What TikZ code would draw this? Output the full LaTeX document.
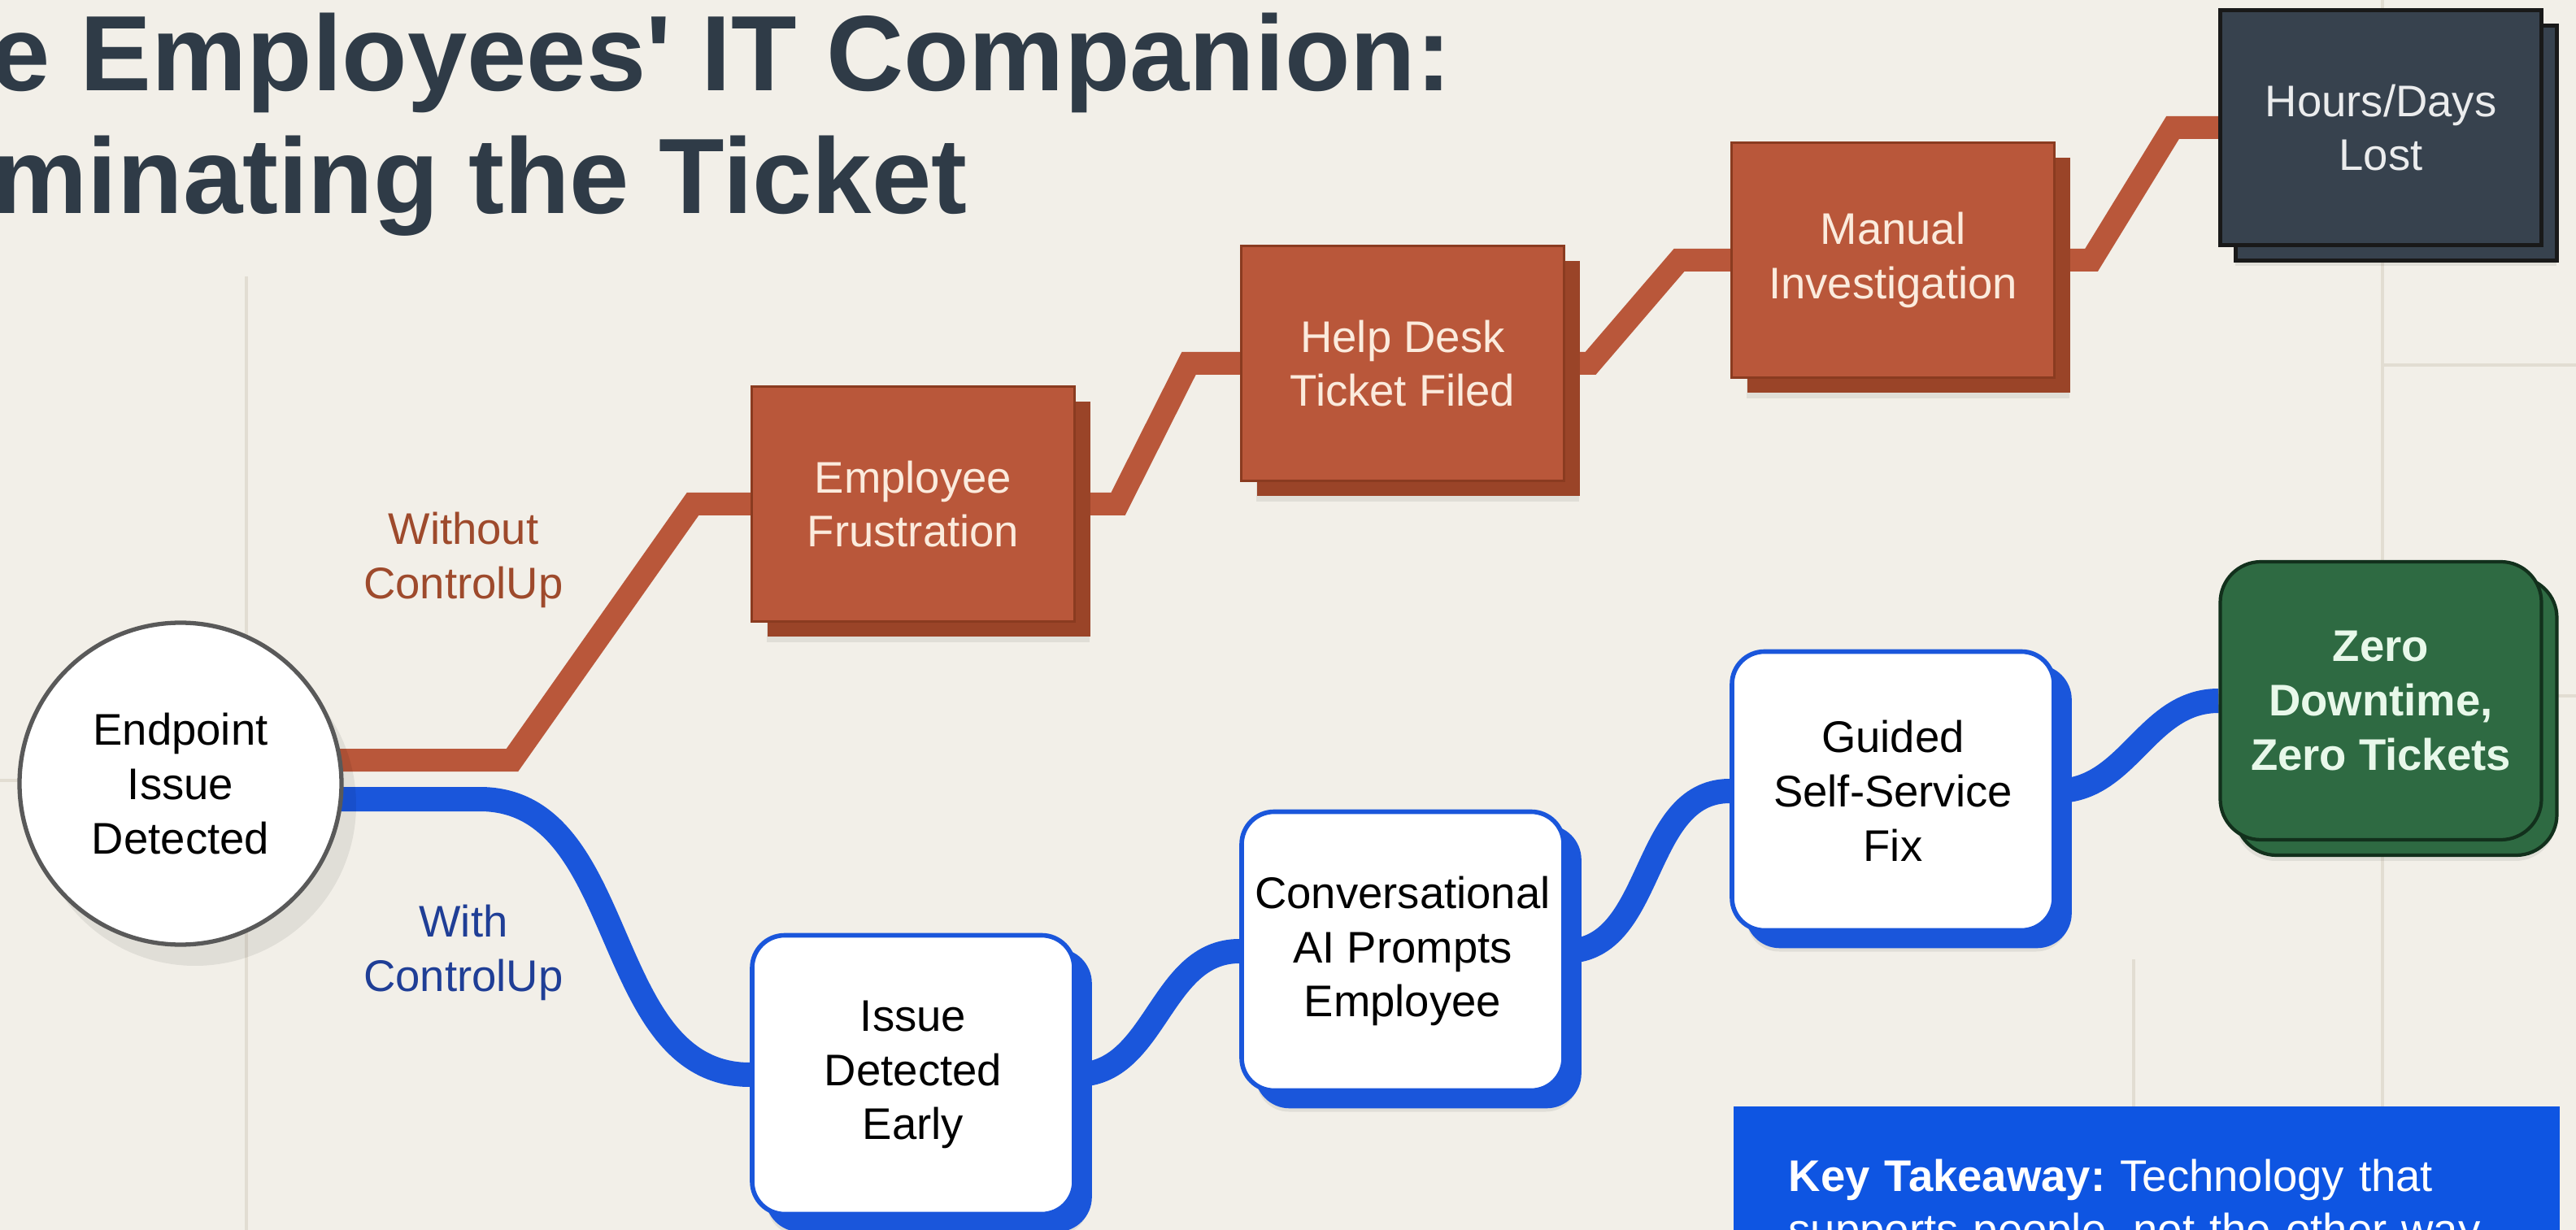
\documentclass[tikz,border=0pt]{standalone}
\usepackage{fontspec}
\setmainfont{Liberation Sans}
\usepackage{tikz}
\usetikzlibrary{positioning}
\usetikzlibrary{shadows}
\usetikzlibrary{backgrounds}
\frenchspacing

\definecolor{paper}{HTML}{F2EFE8}
\definecolor{gridcol}{HTML}{E2DDD2}
\definecolor{slate}{HTML}{2F3B47}
\definecolor{rust}{HTML}{B9573A}
\definecolor{rustdark}{HTML}{9A4428}
\definecolor{rustedge}{HTML}{8A3B20}
\definecolor{rusttext}{HTML}{FBEBDD}
\definecolor{rustlabel}{HTML}{9E4A2C}
\definecolor{ink}{HTML}{37424E}
\definecolor{royal}{HTML}{1A56DB}
\definecolor{royallabel}{HTML}{1F3E96}
\definecolor{pine}{HTML}{2E6A42}
\definecolor{pineedge}{HTML}{12301C}
\definecolor{pinetext}{HTML}{E8F8EA}
\definecolor{keyblue}{HTML}{0E55E2}

\tikzset{
  every node/.style={font=\fontsize{15.5}{19}\selectfont, align=center, inner sep=2pt},
  headline/.style={font=\fontsize{37.5}{45}\selectfont\bfseries, text=slate, inner sep=0pt},
  soft/.style={drop shadow={shadow xshift=0.18cm, shadow yshift=-0.26cm, opacity=0.07, fill=black, draw=none}},
  startnode/.style={circle, fill=white, draw=black!65, line width=1.5pt, minimum size=3.96cm, soft},
  oldbox/.style={rectangle, fill=rust, draw=rustedge, line width=0.8pt, text=rusttext,
    minimum width=3.97cm, minimum height=2.89cm, soft,
    copy shadow={shadow xshift=0.19cm, shadow yshift=-0.19cm, fill=rustdark, draw=none}},
  lostbox/.style={rectangle, fill=ink, draw=black!90, line width=1.2pt, text=white!90!ink,
    minimum width=3.95cm, minimum height=2.89cm, soft,
    copy shadow={shadow xshift=0.19cm, shadow yshift=-0.19cm, fill=ink, draw=black!90}},
  newbox/.style={rectangle, rounded corners=0.4cm, fill=white, draw=royal, line width=1.6pt, text=black,
    minimum width=3.96cm, minimum height=3.43cm, soft,
    copy shadow={shadow xshift=0.19cm, shadow yshift=-0.19cm, fill=royal, draw=royal}},
  winbox/.style={rectangle, rounded corners=0.5cm, fill=pine, draw=pineedge, line width=1.2pt, text=pinetext,
    font=\fontsize{15.5}{19}\selectfont\bfseries,
    minimum width=3.95cm, minimum height=3.42cm, soft,
    copy shadow={shadow xshift=0.19cm, shadow yshift=-0.19cm, fill=pine, draw=pineedge}},
  keybox/.style={rectangle, fill=keyblue, text=white, align=left, text width=8.8cm,
    inner xsep=0.68cm, inner ysep=0.65cm},
  oldpath/.style={draw=rust, line width=0.28cm, line join=miter},
  newpath/.style={draw=royal, line width=0.30cm},
  gridline/.style={draw=gridcol, line width=1pt}
}

\begin{document}
\begin{tikzpicture}
\useasboundingbox (0,0) rectangle (31.68,-15.13);

% title, cut at the left edge
\node[headline, anchor=base west] (head1) at (-0.12,-1.12) {e Employees\textquotesingle{} IT Companion:};
\node[headline, anchor=base west] (head2) at (-0.10,-2.63) {minating the Ticket};

\node[startnode] (start) at (2.22,-9.64) {Endpoint\\Issue\\Detected};

% without ControlUp
\node[oldbox] (frust) at (11.23,-6.20) {Employee\\Frustration};
\node[oldbox] (ticket) at (17.25,-4.47) {Help Desk\\Ticket Filed};
\node[oldbox] (manual) at (23.28,-3.20) {Manual\\Investigation};
\node[lostbox] (lost) at (29.28,-1.57) {Hours/Days\\Lost};

% with ControlUp
\node[newbox] (early) at (11.23,-13.22) {Issue\\Detected\\Early};
\node[newbox] (prompt) at (17.25,-11.70) {Conversational\\AI Prompts\\Employee};
\node[newbox] (selffix) at (23.28,-9.73) {Guided\\Self-Service\\Fix};
\node[winbox] (zero) at (29.28,-8.62) {Zero\\Downtime,\\Zero Tickets};

\node[text=rustlabel] (without) at (5.70,-6.89) {Without\\ControlUp};
\node[text=royallabel] (with) at (5.70,-11.72) {With\\ControlUp};

\node[keybox, anchor=north west] (key) at (21.31,-13.60) {\textbf{Key Takeaway:} Technology that\\supports people, not the other way};

\begin{pgfonlayer}{background}
  \fill[paper] (0,0) rectangle (31.68,-15.13);
  \draw[gridline] (3.03,-3.40) -- (3.03,-15.13);
  \draw[gridline] (29.30,0) -- (29.30,-15.13);
  \draw[gridline] (26.24,-11.80) -- (26.24,-15.13);
  \draw[gridline] (0,-9.60) -- (0.40,-9.60);
  \draw[gridline] (29.30,-4.49) -- (31.68,-4.49);
  \draw[gridline] (29.30,-8.56) -- (31.68,-8.56);

  \draw[oldpath] ([yshift=2.9mm]start.center) -- (6.30,-9.35) -- (8.52,-6.20) -- (frust.west);
  \draw[oldpath] (frust.east) -- (13.75,-6.20) -- (14.62,-4.47) -- (ticket.west);
  \draw[oldpath] (ticket.east) -- (19.56,-4.47) -- (20.65,-3.20) -- (manual.west);
  \draw[oldpath] (manual.east) -- (25.72,-3.20) -- (26.72,-1.57) -- (lost.west);

  \draw[newpath] ([yshift=-1.9mm]start.center) -- (5.90,-9.83) to[out=0,in=180] (early.west);
  \draw[newpath] (early.east) to[out=0,in=180] (prompt.west);
  \draw[newpath] (prompt.east) to[out=0,in=180] (selffix.west);
  \draw[newpath] (selffix.east) to[out=0,in=180] (zero.west);
\end{pgfonlayer}
\end{tikzpicture}
\end{document}
